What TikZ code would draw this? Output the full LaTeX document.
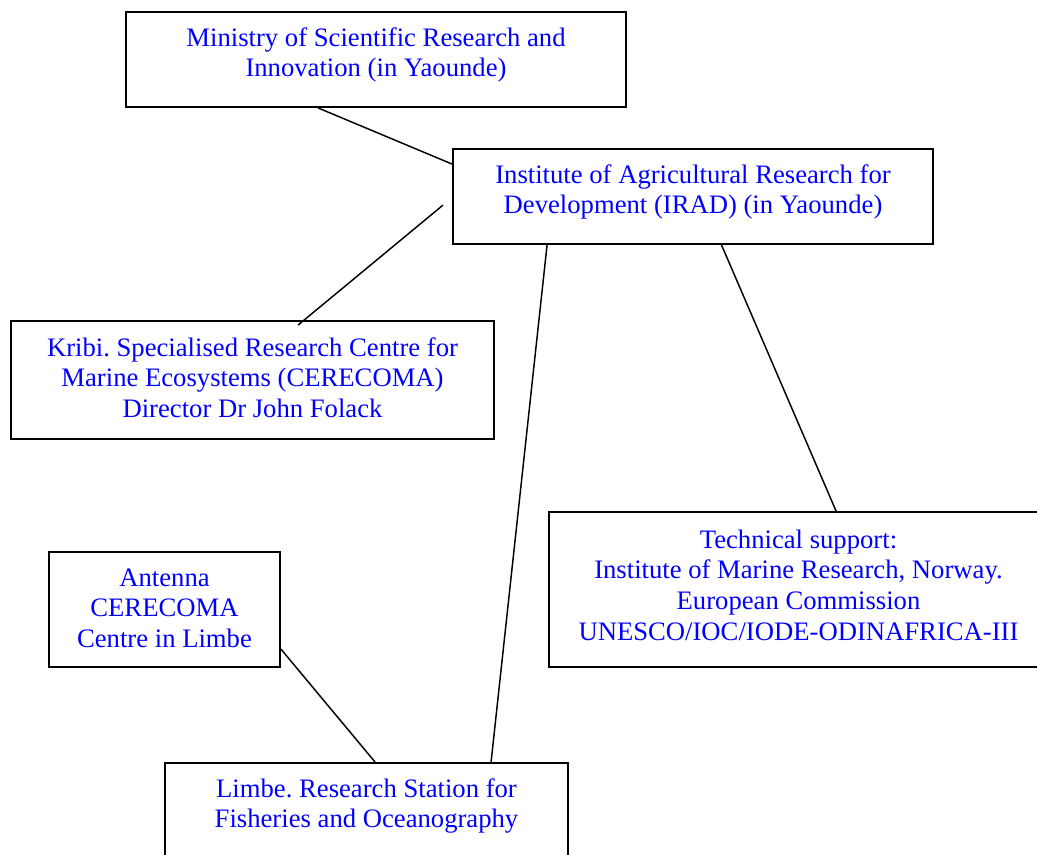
\documentclass[tikz,border=0pt]{standalone}
\usepackage{fontspec}
\setmainfont{Liberation Serif}
\usetikzlibrary{calc}
\definecolor{txtblue}{RGB}{0,0,255}
\begin{document}
\begin{tikzpicture}[x=0.75pt,y=-0.75pt,
  boxnode/.style={draw=black,line width=1.4pt,rectangle,inner sep=0pt,fill=white},
  txtnode/.style={anchor=base,inner sep=0pt,align=flush center,text=txtblue,
    font=\frenchspacing\fontsize{20pt}{23pt}\selectfont},
  conn/.style={draw=black,line width=1.1pt}]
\clip (0,0) rectangle (1037,855);
\fill[white] (0,0) rectangle (1037,855);
% boxes
\node[boxnode,minimum width=375pt,minimum height=71.25pt] (min) at (376,59.5) {};
\node[boxnode,minimum width=360pt,minimum height=71.25pt] (irad) at (693,196.5) {};
\node[boxnode,minimum width=362.25pt,minimum height=88.5pt] (kribi) at (252.5,380) {};
\node[boxnode,minimum width=374.25pt,minimum height=116.25pt] (tech) at (798.5,589.5) {};
\node[boxnode,minimum width=173.25pt,minimum height=86.25pt] (ant) at (164.5,609.5) {};
\node[boxnode,minimum width=302.25pt,minimum height=72.75pt] (limbe) at (366.5,811.5) {};
% texts
\node[txtnode,text width=375pt] (mint) at ($(min.north)+(0,35)$) {Ministry of Scientific Research and\\Innovation (in Yaounde)};
\node[txtnode,text width=360pt] (iradt) at ($(irad.north)+(0,35)$) {Institute of Agricultural Research for\\Development (IRAD) (in Yaounde)};
\node[txtnode,text width=362.25pt] (kribit) at ($(kribi.north)+(0,36)$) {Kribi. Specialised Research Centre for\\Marine Ecosystems (CERECOMA)\\Director Dr John Folack};
\node[txtnode,text width=374.25pt] (techt) at ($(tech.north)+(0,37)$) {Technical support:\\Institute of Marine Research, Norway.\\European Commission\\UNESCO/IOC/IODE-ODINAFRICA-III};
\node[txtnode,text width=173.25pt] (antt) at ($(ant.north)+(0,35)$) {Antenna\\CERECOMA\\Centre in Limbe};
\node[txtnode,text width=302.25pt] (limbet) at ($(limbe.north)+(0,35)$) {Limbe. Research Station for\\Fisheries and Oceanography};
% free ends
\coordinate (kribiend) at ($(irad.north west)+(-9,57)$);
% connectors
\draw[conn] ($(min.south west)+(193,0)$) -- ($(irad.north west)+(0,16)$);
\draw[conn] (kribiend) -- ($(kribi.north west)+(288,5)$);
\draw[conn] ($(irad.south west)+(95,0)$) -- ($(limbe.north west)+(327,0)$);
\draw[conn] ($(irad.south west)+(269,-1)$) -- ($(tech.north west)+(288,0)$);
\draw[conn] ($(ant.north east)+(0,98)$) -- ($(limbe.north west)+(211,0)$);
\end{tikzpicture}
\end{document}
